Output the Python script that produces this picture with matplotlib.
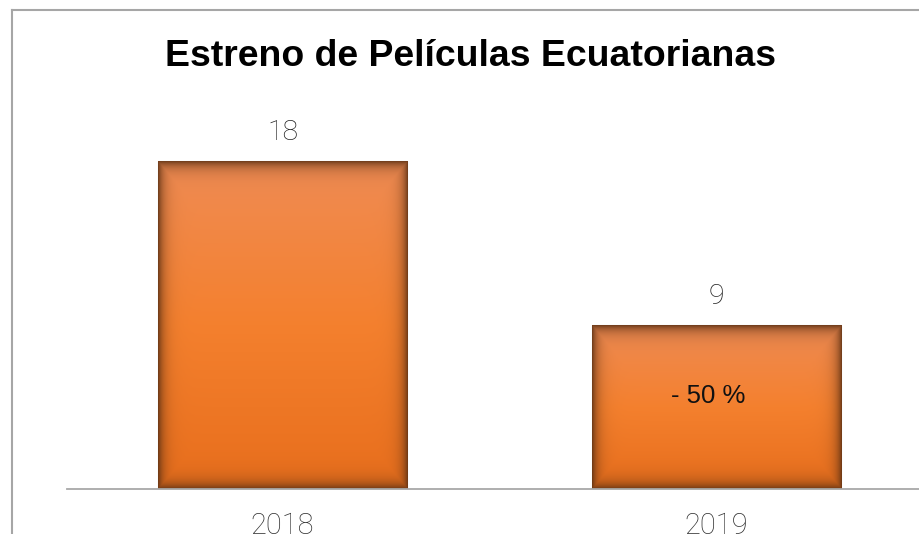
import numpy as np
import matplotlib
matplotlib.use("Agg")
import matplotlib.pyplot as plt
from matplotlib.lines import Line2D

years = ["2018", "2019"]
estrenos = [18, 9]
cambio = "- 50 %"

W, H = 920, 534
fig = plt.figure(figsize=(W / 100, H / 100), dpi=100)

# frame around the chart (cut on the right and bottom)
fig.add_artist(Line2D([11.5 / W, 11.5 / W], [0, 1 - 10 / H], color="#a6a6a6", lw=1.5))
fig.add_artist(Line2D([11.5 / W, 1], [1 - 10 / H, 1 - 10 / H], color="#a6a6a6", lw=1.5))

ax = fig.add_axes([67 / W, 1 - 489 / H, 865 / W, 364.4 / H])
x = np.arange(len(years))
bars = ax.bar(x, estrenos, width=0.574, color="#f07f30", edgecolor="#c8c8c8", linewidth=0.8, zorder=2)
ax.set_xlim(-0.497, 1.497)
ax.set_ylim(0, 20)

# gradient fill with inner shadow
top = np.array([240, 140, 84]) / 255
mid = np.array([244, 128, 46]) / 255
bot = np.array([232, 110, 28]) / 255
edge = np.array([95, 50, 20]) / 255
for b in bars:
    x0, w, h = b.get_x(), b.get_width(), b.get_height()
    wpx = w * 865 / 2.0
    hpx = h * 364.4 / 20
    nx, ny = int(wpx), int(hpx)
    yy, xx = np.mgrid[0:ny, 0:nx]
    t = (yy / max(ny - 1, 1))[..., None]
    base = np.where(t < 0.5, top * (1 - 2 * t) + mid * 2 * t, mid * (2 - 2 * t) + bot * (2 * t - 1))
    dx = np.minimum(xx, nx - 1 - xx)
    dy = np.minimum(yy, ny - 1 - yy)
    d = np.minimum(dx, dy * 0.85)
    k = (0.85 * np.exp(-d / 6.0))[..., None]
    img = base * (1 - k) + edge * k
    ax.imshow(img, extent=[x0, x0 + w, 0, h], origin="upper", aspect="auto",
              interpolation="bilinear", zorder=2.5)
    ax.annotate(str(h if h % 1 else int(h)), (x0 + w / 2, h), xytext=(0, 11),
                textcoords="offset points", ha="center", va="bottom",
                fontsize=20.5, color="#222222", family=["Roboto", "DejaVu Sans"], weight="light")

ax.text(x[1] - 0.02, estrenos[1] * 0.57, cambio, ha="center", va="center",
        fontsize=18.5, color="#111111", family=["Liberation Sans", "DejaVu Sans"], zorder=3)

ax.set_aspect("auto")
ax.set_xlim(-0.497, 1.497)
ax.set_ylim(0, 20)
for s in ["top", "right", "left"]:
    ax.spines[s].set_visible(False)
ax.spines["bottom"].set_color("#a8a8a8")
ax.spines["bottom"].set_linewidth(1.3)
ax.spines["bottom"].set_zorder(3)
ax.set_yticks([])
ax.set_xticks(x)
ax.set_xticklabels(years, fontsize=21, color="#333333", family=["Roboto", "DejaVu Sans"], weight="light")
ax.tick_params(axis="x", length=0, pad=16.5)

fig.text(471 / W, 1 - 56 / H, "Estreno de Películas Ecuatorianas", ha="center", va="center",
         fontsize=26.9, weight="bold", family=["Liberation Sans", "DejaVu Sans"])

fig.savefig("out.png", dpi=100)
